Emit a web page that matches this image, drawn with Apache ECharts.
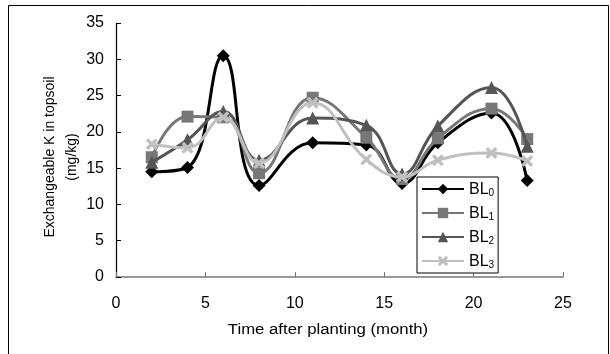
<!DOCTYPE html>
<html>
<head>
<meta charset="utf-8">
<script src="https://cdn.jsdelivr.net/npm/echarts@6/dist/echarts.min.js"></script>
<style>
html,body{margin:0;padding:0;background:#fff;}
#chart{width:610px;height:354px;}
</style>
</head>
<body>
<div id="chart"></div>
<script>
const months = [2, 4, 6, 8, 11, 14, 16, 18, 21, 23];
const seriesNames = ['BL0', 'BL1', 'BL2', 'BL3'];
const bl0 = [14.5, 15.1, 30.5, 12.6, 18.5, 18.2, 12.9, 18.5, 22.6, 13.3];
const bl1 = [16.5, 22.1, 22.0, 14.3, 24.7, 19.2, 13.5, 19.1, 23.2, 19.0];
const bl2 = [15.8, 18.9, 22.8, 16.1, 21.9, 20.9, 14.2, 20.8, 26.1, 18.0];
const bl3 = [18.3, 17.8, 22.0, 15.7, 24.0, 16.2, 13.8, 16.1, 17.1, 16.0];
const xTicks = [0, 5, 10, 15, 20, 25];
const yTicks = [0, 5, 10, 15, 20, 25, 30, 35];

const FONT = 'Liberation Sans, Arial, sans-serif';
const xMark = 'path://M0,2 L2,0 L5,3 L8,0 L10,2 L7,5 L10,8 L8,10 L5,7 L2,10 L0,8 L3,5 Z';

function pairs(vals) { return months.map((m, i) => [m, vals[i]]); }

const styles = [
  { data: bl0, color: '#000000', symbol: 'diamond', size: 13 },
  { data: bl1, color: '#777777', symbol: 'rect', size: 12 },
  { data: bl2, color: '#555555', symbol: 'triangle', size: 13 },
  { data: bl3, color: '#c0c0c0', symbol: xMark, size: 12 }
];

const chart = echarts.init(document.getElementById('chart'), null, { renderer: 'canvas' });
chart.setOption({
  animation: false,
  backgroundColor: '#ffffff',
  textStyle: { fontFamily: FONT },
  graphic: [
    { type: 'rect', shape: { x: 8.5, y: 5.5, width: 600, height: 400 }, style: { fill: 'none', stroke: '#000', lineWidth: 1 }, silent: true, z: -10 },
    { type: 'text', x: 50, y: 157, rotation: Math.PI / 2, style: { text: 'Exchangeable K in topsoil', font: '14px ' + FONT, fill: '#000', align: 'center', verticalAlign: 'middle' } },
    { type: 'text', x: 72, y: 157, rotation: Math.PI / 2, style: { text: '(mg/kg)', font: '14px ' + FONT, fill: '#000', align: 'center', verticalAlign: 'middle' } },
    { type: 'text', x: 328, y: 330, scaleX: 1.08, style: { text: 'Time after planting (month)', font: '15.5px ' + FONT, fill: '#000', align: 'center', verticalAlign: 'middle' } }
  ],
  grid: { left: 116, right: 47, top: 23, bottom: 77, containLabel: false },
  xAxis: {
    type: 'value', min: xTicks[0], max: xTicks[xTicks.length - 1], interval: 5,
    axisLine: { lineStyle: { color: '#777', width: 1.5 } },
    axisTick: { inside: true, length: 5, lineStyle: { color: '#777' } },
    axisLabel: { color: '#000', fontSize: 16, margin: 19, fontFamily: FONT },
    splitLine: { show: false }
  },
  yAxis: {
    type: 'value', min: yTicks[0], max: yTicks[yTicks.length - 1], interval: 5,
    axisLine: { show: true, lineStyle: { color: '#000', width: 1.2 } },
    axisTick: { show: true, inside: true, length: 5, lineStyle: { color: '#000' } },
    axisLabel: { color: '#000', fontSize: 16, margin: 12, fontFamily: FONT },
    splitLine: { show: false }
  },
  legend: {
    orient: 'vertical', left: 417, top: 177,
    backgroundColor: '#fff', borderColor: '#000', borderWidth: 1,
    padding: [3, 4, 3, 4], itemGap: 6, itemWidth: 42, itemHeight: 13,
    data: seriesNames,
    formatter: n => '{a|' + n.slice(0, 2) + '}{b|' + n.slice(2) + '}',
    textStyle: {
      color: '#000', fontFamily: FONT,
      rich: {
        a: { fontSize: 16, color: '#000', fontFamily: FONT, verticalAlign: 'bottom', lineHeight: 18 },
        b: { fontSize: 10, color: '#000', fontFamily: FONT, verticalAlign: 'bottom', lineHeight: 12, padding: [8, 0, 0, 0] }
      }
    }
  },
  series: styles.map((s, i) => ({
    name: seriesNames[i],
    type: 'line',
    smooth: 0.45,
    data: pairs(s.data),
    symbol: s.symbol,
    symbolSize: s.size,
    lineStyle: { color: s.color, width: 3 },
    itemStyle: { color: s.color, borderWidth: 0 },
    z: 2 + i
  }))
});
</script>
</body>
</html>
